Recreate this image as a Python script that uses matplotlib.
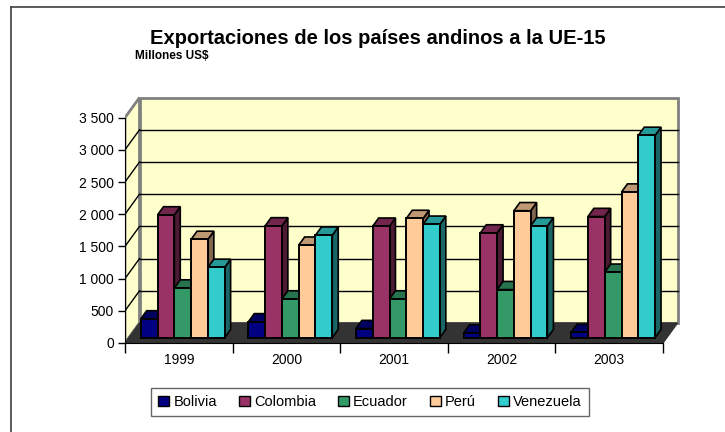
import matplotlib.pyplot as plt
from matplotlib.patches import Polygon, Patch
from matplotlib.lines import Line2D
from matplotlib.ticker import FuncFormatter
from matplotlib.colors import to_rgb

plt.rcParams['font.family'] = ['Liberation Sans', 'DejaVu Sans']

# Datos (millones US$)
years = ['1999', '2000', '2001', '2002', '2003']
countries = ['Bolivia', 'Colombia', 'Ecuador', 'Perú', 'Venezuela']
bolivia = [290, 245, 140, 70, 80]
colombia = [1905, 1735, 1730, 1625, 1880]
ecuador = [770, 600, 600, 745, 1015]
peru = [1525, 1435, 1850, 1970, 2260]
venezuela = [1090, 1590, 1760, 1735, 3140]
colors = ['#000080', '#993366', '#339966', '#FFCC99', '#33CCCC']

series = [bolivia, colombia, ecuador, peru, venezuela]


def shade(c, f):
    r, g, b = to_rgb(c)
    return (r * f, g * f, b * f)


fig = plt.figure(figsize=(7.25, 4.32), dpi=100)
W, H = 725, 432
# ejes: izquierda 125 px, derecha 690 px, base 343 px, arriba 90 px
ax = fig.add_axes([125 / W, (H - 343) / H, (690 - 125) / W, (343 - 90) / H])
px_x = 107.6          # pixeles por categoria
px_y = 0.0644         # pixeles por millon
ax.set_xlim(0, (690 - 125) / px_x)
ax.set_ylim(0, (343 - 90) / px_y)
ax.patch.set_visible(False)

DX = 14.5 / px_x
DY = 20 / px_y
ymax = 3500
n = len(years)

# paredes y piso
ax.add_patch(Polygon([(DX, DY), (n + DX, DY), (n + DX, ymax + DY), (DX, ymax + DY)],
                     closed=True, fc='#FFFFCC', ec='#808080', lw=2, zorder=1))
ax.add_patch(Polygon([(0, 0), (DX, DY), (DX, ymax + DY), (0, ymax)],
                     closed=True, fc='#FFFFCC', ec='#808080', lw=2, zorder=1))
for v in range(500, ymax, 500):
    ax.plot([DX, n + DX], [v + DY, v + DY], color='black', lw=1, zorder=1.5)
    ax.plot([0, DX], [v, v + DY], color='black', lw=1, zorder=1.5)
ax.add_patch(Polygon([(0, 0), (n, 0), (n + DX, DY), (DX, DY)],
                     closed=True, fc='#333333', ec='#333333', lw=1, zorder=2))

# barras con efecto 3D
f0, f1 = 0.27, 0.68
w = 0.156
b0x, b0y = f0 * DX, f0 * DY
dx, dy = (f1 - f0) * DX, (f1 - f0) * DY
z = 3
for i in range(n):
    for j, vals in enumerate(series):
        v = vals[i]
        xl = i + 0.5 - 2.5 * w + j * w + b0x
        xr = xl + w
        c = colors[j]
        ax.add_patch(Polygon([(xr, b0y), (xr + dx, b0y + dy), (xr + dx, v + b0y + dy), (xr, v + b0y)],
                             closed=True, fc=shade(c, 0.5), ec='black', lw=1.2, zorder=z))
        ax.add_patch(Polygon([(xl, v + b0y), (xr, v + b0y), (xr + dx, v + b0y + dy), (xl + dx, v + b0y + dy)],
                             closed=True, fc=shade(c, 0.75), ec='black', lw=1.2, zorder=z))
        ax.bar(xl, v, width=w, bottom=b0y, align='edge', color=c, edgecolor='black',
               linewidth=1.4, zorder=z + 0.5)
        z += 1

# ejes
for s in ['top', 'right']:
    ax.spines[s].set_visible(False)
ax.spines['left'].set_bounds(0, ymax)
ax.spines['bottom'].set_bounds(0, n)
ax.spines['left'].set_zorder(50)
ax.spines['bottom'].set_zorder(50)
ax.set_yticks(range(0, ymax + 1, 500))
ax.yaxis.set_major_formatter(FuncFormatter(lambda v, p: '{:,}'.format(int(v)).replace(',', ' ')))
ax.set_xticks(range(n + 1))
ax.set_xticklabels([])
ax.set_xticks([i + 0.5 for i in range(n)], minor=True)
ax.set_xticklabels(years, minor=True)
ax.tick_params(axis='x', which='major', length=7, width=1, direction='out')
ax.tick_params(axis='x', which='minor', length=0, pad=7, labelsize=10)
ax.tick_params(axis='y', length=5, width=1, direction='out', labelsize=10, pad=3)

fig.text(378 / W, 1 - 38 / H, 'Exportaciones de los países andinos a la UE-15',
         ha='center', va='center', fontsize=14.5, fontweight='bold')
fig.text(135 / W, 1 - 56 / H, 'Millones US$', ha='left', va='center',
         fontsize=8.5, fontweight='bold')

handles = [Patch(facecolor=c, edgecolor='black', lw=1) for c in colors]
leg = fig.legend(handles, countries, loc='center', bbox_to_anchor=(370 / W, 1 - 402 / H),
                 ncol=5, fontsize=10.5, frameon=True, fancybox=False, handlelength=0.75,
                 handleheight=0.75, handletextpad=0.3, columnspacing=1.5, borderpad=0.5)
leg.get_frame().set_edgecolor('#404040')
leg.get_frame().set_linewidth(1)

# borde del grafico
fig.add_artist(Line2D([11 / W, 11 / W], [-0.1, 1 - 7 / H], color='#404040', lw=1.2))
fig.add_artist(Line2D([11 / W, 1.1], [1 - 7 / H, 1 - 7 / H], color='#404040', lw=1.2))

fig.savefig('out.png', dpi=100)
